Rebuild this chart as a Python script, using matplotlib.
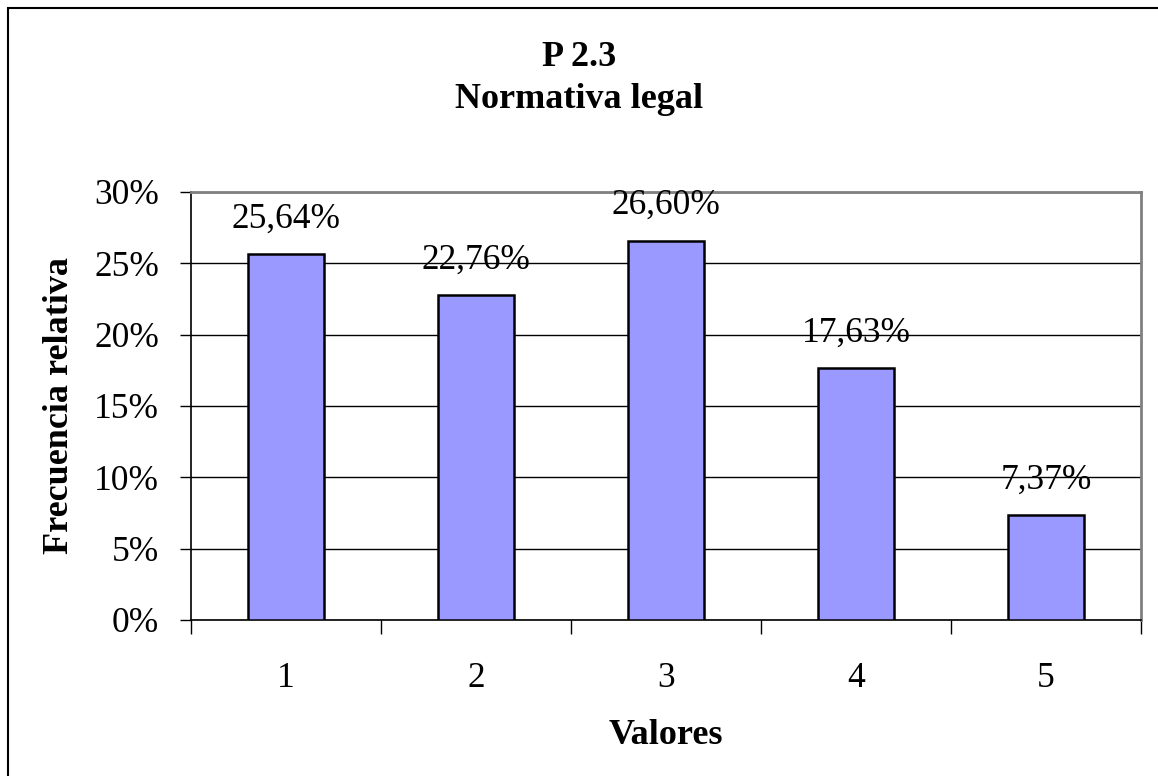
import matplotlib.pyplot as plt
from matplotlib.patches import Rectangle
from matplotlib.ticker import FuncFormatter

categories = ["1", "2", "3", "4", "5"]
values = [25.64, 22.76, 26.60, 17.63, 7.37]
value_labels = ["25,64%", "22,76%", "26,60%", "17,63%", "7,37%"]
y_ticks = [0, 5, 10, 15, 20, 25, 30]

plt.rcParams['font.family'] = ['Liberation Serif', 'DejaVu Serif']

fig = plt.figure(figsize=(11.58, 7.76), dpi=100)
ax = fig.add_axes([191 / 1158, 1 - 620 / 776, 950 / 1158, 428 / 776])

# outer chart border (only left/top visible in the original)
fig.patches.append(Rectangle((8 / 1158, -0.1), 1.2, 1 - 8 / 776 + 0.1,
                             transform=fig.transFigure, fill=False,
                             edgecolor='black', linewidth=1.5))

x = list(range(len(categories)))
ax.bar(x, values, width=0.4, color='#9999ff', edgecolor='black',
       linewidth=1.8, zorder=3)

for xi, v, lab in zip(x, values, value_labels):
    ax.text(xi, v + 1.3, lab, ha='center', va='bottom', fontsize=25.5)

ax.set_xlim(-0.5, 4.5)
ax.set_ylim(0, 30)
ax.set_yticks(y_ticks)
ax.yaxis.set_major_formatter(FuncFormatter(lambda v, p: f"{v:.0f}%"))
ax.yaxis.grid(True, color='black', linewidth=1, zorder=0)

ax.set_xticks([i - 0.5 for i in range(6)], minor=False)
ax.set_xticklabels([])
ax.set_xticks(x, minor=True)
ax.set_xticklabels(categories, minor=True)
ax.tick_params(axis='x', which='major', length=10, width=1, direction='out')
ax.tick_params(axis='x', which='minor', length=0, labelsize=25.5, pad=30)
ax.tick_params(axis='y', length=8, width=1, direction='out', labelsize=25.5, pad=15)

ax.spines['top'].set_color('#808080')
ax.spines['right'].set_color('#808080')
ax.spines['top'].set_linewidth(2)
ax.spines['right'].set_linewidth(2)
ax.spines['left'].set_linewidth(1.2)
ax.spines['bottom'].set_linewidth(1.2)

fig.text(0.5, 1 - 57 / 776, "P 2.3", ha='center', va='center',
         fontsize=26, fontweight='bold')
fig.text(0.5, 1 - 100 / 776, "Normativa legal", ha='center', va='center',
         fontsize=26, fontweight='bold')
fig.text(0.5 * (191 + 1141) / 1158, 1 - 735 / 776, "Valores", ha='center',
         va='center', fontsize=26, fontweight='bold')
fig.text(60 / 1158, 1 - 405 / 776, "Frecuencia relativa", ha='center',
         va='center', rotation=90, fontsize=26, fontweight='bold')

fig.savefig("out.png", dpi=100)
